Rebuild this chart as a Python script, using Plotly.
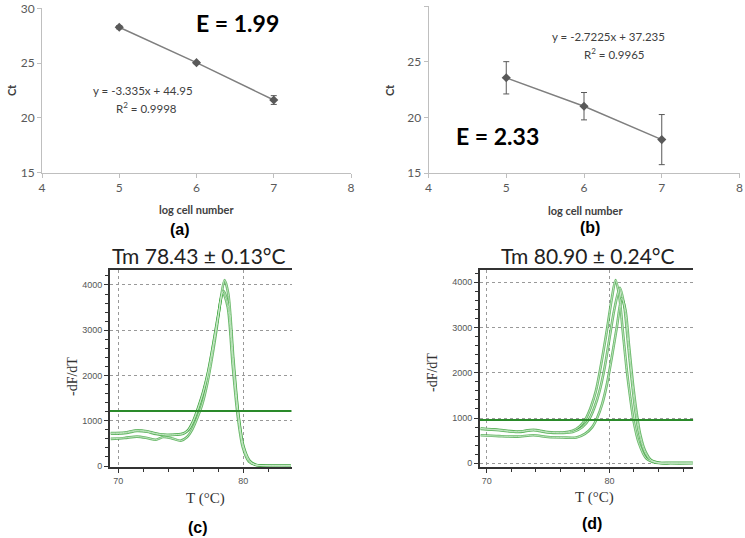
import plotly.graph_objects as go

W, H = 745, 538

# ---- Panel (a) / (b): standard curves ----
log_cells = [5, 6, 7]
ct_a = [28.27, 25.04, 21.63]
err_a = [0.15, 0.1, 0.4]
ct_b = [23.55, 21.0, 18.0]
err_b = [1.45, 1.23, 2.25]

# ---- Panel (c): melt curves ----
tc1 = [69.4, 70.5, 71.5, 72.3, 73.0, 73.9, 74.6, 75.2, 75.6, 76.0, 76.4, 76.8, 77.2, 77.6, 78.0, 78.4, 78.8, 79.2, 79.6, 80.0, 80.5, 81.0, 81.5, 82.5, 83.8]
vc1 = [730, 740, 790, 770, 720, 690, 695, 720, 800, 1000, 1300, 1650, 2100, 2700, 3350, 3870, 3550, 2250, 1130, 430, 100, 25, 10, 5, 5]
tc2 = [69.4, 70.5, 71.5, 72.3, 73.0, 73.9, 74.6, 75.2, 75.6, 76.0, 76.4, 76.8, 77.2, 77.6, 78.0, 78.35, 78.75, 79.15, 79.55, 79.95, 80.45, 81.0, 81.5, 82.5, 83.8]
vc2 = [715, 725, 775, 755, 710, 680, 690, 712, 790, 985, 1280, 1630, 2080, 2680, 3330, 3840, 3520, 2230, 1110, 420, 95, 22, 8, 5, 5]
tc3 = [69.4, 70.5, 71.5, 72.3, 73.0, 73.6, 74.3, 75.0, 75.5, 75.9, 76.3, 76.7, 77.1, 77.5, 77.9, 78.2, 78.5, 78.8, 79.2, 79.6, 80.0, 80.5, 81.0, 82.0, 83.8]
vc3 = [600, 620, 650, 620, 580, 640, 610, 560, 640, 800, 1050, 1350, 1800, 2400, 3100, 3700, 4110, 3800, 2400, 1150, 450, 120, 25, 5, 5]

# ---- Panel (d): melt curves ----
td1 = [69.5, 71, 72.5, 73.8, 75, 76.2, 77.0, 77.6, 78.1, 78.5, 78.9, 79.3, 79.8, 80.2, 80.5, 80.8, 81.1, 81.4, 81.7, 82.0, 82.4, 83.0, 83.8, 85, 86.8]
vd1 = [770, 740, 700, 740, 690, 680, 720, 820, 1000, 1250, 1600, 2150, 2950, 3650, 4050, 3700, 2900, 2100, 1450, 900, 450, 110, 10, 5, 5]
td2 = [69.5, 71, 72.5, 73.8, 75, 76.2, 77.0, 77.8, 78.4, 78.8, 79.2, 79.6, 80.0, 80.4, 80.85, 81.2, 81.5, 81.8, 82.1, 82.4, 82.8, 83.3, 84.0, 85, 86.8]
vd2 = [760, 730, 690, 730, 680, 670, 690, 800, 1000, 1250, 1600, 2100, 2750, 3400, 3880, 3500, 2700, 1900, 1200, 700, 300, 80, 10, 5, 5]
td3 = [69.5, 71, 72.5, 73.8, 75, 76.2, 77.3, 78.0, 78.6, 79.0, 79.4, 79.8, 80.2, 80.6, 81.0, 81.3, 81.6, 81.9, 82.2, 82.5, 82.9, 83.4, 84.1, 85, 86.8]
vd3 = [620, 600, 590, 620, 580, 570, 570, 650, 800, 1000, 1300, 1750, 2350, 3000, 3650, 3400, 2600, 1800, 1150, 650, 280, 70, 10, 5, 5]

threshold_c = 1215
threshold_d = 957

ct_ticks = [15, 20, 25, 30]
log_ticks = [4, 5, 6, 7, 8]
melt_xticks = [70, 80]
melt_yticks = [0, 1000, 2000, 3000, 4000]


def px(x):
    return x / W


def py(y):
    return 1 - y / H


fig = go.Figure()

GRAY = "#595959"
for i, (ct, err) in enumerate([(ct_a, err_a), (ct_b, err_b)]):
    ax = "" if i == 0 else "2"
    fig.add_trace(go.Scatter(
        x=log_cells, y=ct, mode="lines+markers",
        line=dict(color="#7f7f7f", width=1.5),
        marker=dict(symbol="diamond", size=7, color=GRAY),
        error_y=dict(type="data", array=err, color=GRAY, thickness=1, width=3),
        xaxis="x" + ax, yaxis="y" + ax, showlegend=False))

GREEN = "#47a847"
for ax, curves, thr, xr in [("3", [(tc1, vc1), (tc2, vc2), (tc3, vc3)], threshold_c, [69.34, 83.87]),
                            ("4", [(td1, vd1), (td2, vd2), (td3, vd3)], threshold_d, [69.45, 86.84])]:
    for t, v in curves:
        fig.add_trace(go.Scatter(
            x=t, y=v, mode="lines", line=dict(color=GREEN, width=2.6, shape="spline", smoothing=0.8),
            opacity=0.8, xaxis="x" + ax, yaxis="y" + ax, showlegend=False))
    for t, v in curves:
        fig.add_trace(go.Scatter(
            x=t, y=v, mode="lines", line=dict(color="#cfeccf", width=0.9, shape="spline", smoothing=0.8),
            opacity=0.9, xaxis="x" + ax, yaxis="y" + ax, showlegend=False))
    fig.add_trace(go.Scatter(
        x=xr, y=[thr, thr], mode="lines", line=dict(color="#2a8a2a", width=2),
        xaxis="x" + ax, yaxis="y" + ax, showlegend=False))

std_x = dict(showline=True, linecolor="#bfbfbf", linewidth=1, ticks="outside", ticklen=4,
             tickcolor="#bfbfbf", tickvals=log_ticks, showgrid=False, zeroline=False, automargin=False,
             tickfont=dict(family="Lato", size=12, color=GRAY))
std_y = dict(showline=True, linecolor="#bfbfbf", linewidth=1, ticks="outside", ticklen=4,
             tickcolor="#bfbfbf", tickvals=ct_ticks, showgrid=False, zeroline=False, automargin=False,
             tickfont=dict(family="Lato", size=12, color=GRAY), range=[15, 30])

melt_x = dict(showline=True, mirror=True, linecolor="#333333", linewidth=2, ticks="outside", ticklen=4,
              tickcolor="#333333", tickvals=melt_xticks, showgrid=True, gridcolor="#9a9a9a",
              griddash="dot", gridwidth=1, zeroline=False, automargin=False,
              minor=dict(dtick=2, tick0=70, ticks="outside", ticklen=3, tickcolor="#333333", showgrid=False),
              tickfont=dict(family="Liberation Sans", size=9, color="#555555"))
melt_y = dict(showline=True, linecolor="#333333", linewidth=2, ticks="outside", ticklen=4,
              tickcolor="#333333", tickvals=melt_yticks, showgrid=True, gridcolor="#9a9a9a",
              griddash="dot", gridwidth=1, zeroline=False, automargin=False,
              minor=dict(dtick=200, tick0=0, ticks="outside", ticklen=3, tickcolor="#333333", showgrid=False),
              tickfont=dict(family="Liberation Sans", size=9, color="#555555"))

fig.update_layout(
    width=W, height=H, margin=dict(l=0, r=0, t=0, b=0, autoexpand=False),
    paper_bgcolor="white", plot_bgcolor="white", showlegend=False,
    xaxis=dict(std_x, domain=[px(42), px(351)], range=[4, 8], anchor="y"),
    yaxis=dict(std_y, domain=[py(172.7), py(8.3)], anchor="x"),
    xaxis2=dict(std_x, domain=[px(428.5), px(739.5)], range=[4, 8], anchor="y2"),
    yaxis2=dict(std_y, domain=[py(173), py(6)], anchor="x2"),
    xaxis3=dict(melt_x, domain=[px(110), px(291.7)], range=[69.34, 83.87], anchor="y3"),
    yaxis3=dict(melt_y, domain=[py(467), py(270)], range=[-22, 4331], anchor="x3"),
    xaxis4=dict(melt_x, domain=[px(480), px(693.3)], range=[69.45, 86.84], anchor="y4"),
    yaxis4=dict(melt_y, domain=[py(467), py(270)], range=[-82, 4272], anchor="x4"),
)


def ann(text, x, y, size, family="Lato", color="black", bold=False, angle=0):
    if bold:
        text = "<b>" + text + "</b>"
    fig.add_annotation(text=text, x=px(x), y=py(y), xref="paper", yref="paper",
                       showarrow=False, xanchor="center", yanchor="middle", textangle=angle,
                       font=dict(family=family, size=size, color=color))


# panel (a)
ann("E = 1.99", 237, 23, 23, bold=True)
ann("y = -3.335x + 44.95", 143, 91, 11.5, color="#404040")
ann("R<sup>2</sup> = 0.9998", 146, 108, 11.5, color="#404040")
ann("Ct", 12, 90, 11, color="#404040", bold=True, angle=-90)
ann("log cell number", 196, 209, 11, color="#404040", bold=True)
ann("(a)", 180, 230, 16, family="Liberation Sans", bold=True)

# panel (b)
ann("E = 2.33", 497, 136, 23, bold=True)
ann("y = -2.7225x + 37.235", 608, 37, 11.5, color="#404040")
ann("R<sup>2</sup> = 0.9965", 614, 53, 11.5, color="#404040")
ann("Ct", 390, 90, 11, color="#404040", bold=True, angle=-90)
ann("log cell number", 585, 210, 11, color="#404040", bold=True)
ann("(b)", 590, 227, 16, family="Liberation Sans", bold=True)

# panel (c)
ann("Tm 78.43 ± 0.13°C", 199, 255, 21, color="#222222")
ann("-dF/dT", 72, 377, 14, family="Liberation Serif", color="#333333", angle=-90)
ann("T (°C)", 205, 498, 15, family="Liberation Serif", color="#333333")
ann("(c)", 198, 527, 16, family="Liberation Sans", bold=True)

# panel (d)
ann("Tm 80.90 ± 0.24°C", 588, 255, 21, color="#222222")
ann("-dF/dT", 432, 373, 14, family="Liberation Serif", color="#333333", angle=-90)
ann("T (°C)", 594, 497, 15, family="Liberation Serif", color="#333333")
ann("(d)", 592, 523, 16, family="Liberation Sans", bold=True)

fig.write_html("out.html", post_script="document.body.style.margin='0';document.body.style.overflow='hidden';",
               config={"displayModeBar": False})
